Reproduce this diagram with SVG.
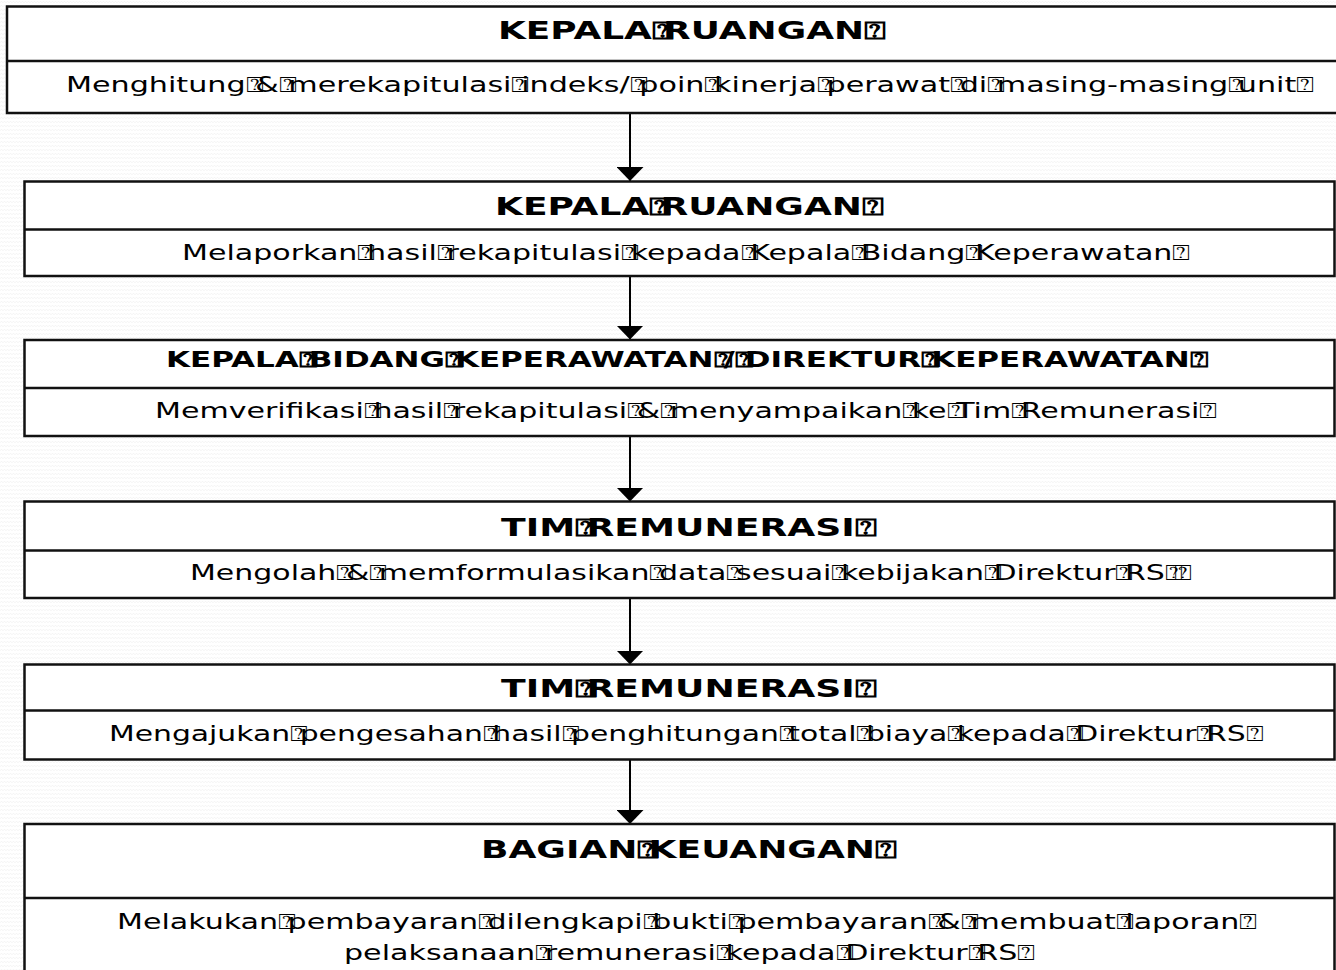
<svg xmlns="http://www.w3.org/2000/svg" width="1336" height="970" viewBox="0 0 1336 970">
<style>
.box{fill:#fff;stroke:#111;stroke-width:2.5}
.dv{stroke:#111;stroke-width:2.5}
.t{font-family:"DejaVu Sans",sans-serif;font-weight:bold;font-size:24.5px;fill:#000}
.t3{font-size:21px}
.b{font-family:"DejaVu Sans",sans-serif;font-size:21px;fill:#000}
.q{letter-spacing:-0.3em}
.cn{stroke:#000;stroke-width:2;fill:none}
</style>
<defs>
<pattern id="zz" width="6" height="4" patternUnits="userSpaceOnUse">
<path d="M0,3 L1.5,1 L3,3 L4.5,1 L6,3" fill="none" stroke="#f0f0f0" stroke-width="0.6"/>
</pattern>
<marker id="ah" viewBox="0 0 14 27" markerWidth="14" markerHeight="27" refX="14" refY="13.5" orient="auto" markerUnits="userSpaceOnUse">
<path d="M0,0 L14,13.5 L0,27 z" fill="#000"/>
</marker>
</defs>
<rect x="0" y="0" width="1336" height="970" fill="#fff"/>
<rect x="0" y="0" width="1336" height="970" fill="url(#zz)"/>

<g id="connectors">
<line class="cn" x1="630" y1="113" x2="630" y2="181" marker-end="url(#ah)"/>
<line class="cn" x1="630" y1="273" x2="630" y2="339.5" marker-end="url(#ah)"/>
<line class="cn" x1="630" y1="436" x2="630" y2="501.5" marker-end="url(#ah)"/>
<line class="cn" x1="630" y1="596" x2="630" y2="664.5" marker-end="url(#ah)"/>
<line class="cn" x1="630" y1="759.5" x2="630" y2="824" marker-end="url(#ah)"/>
</g>

<g id="n1">
<rect class="box" x="7" y="6.5" width="1340" height="106.5"/>
<line class="dv" x1="7" y1="61" x2="1347" y2="61"/>
<text class="t" x="498" y="38.5" textLength="388" lengthAdjust="spacingAndGlyphs">KEPALA<tspan class="q">&#x2370;</tspan>RUANGAN&#x2370;</text>
<text class="b" x="66" y="92" textLength="1249" lengthAdjust="spacingAndGlyphs">Menghitung<tspan class="q">&#x2370;</tspan>&amp;<tspan class="q">&#x2370;</tspan>merekapitulasi<tspan class="q">&#x2370;</tspan>indeks/<tspan class="q">&#x2370;</tspan>poin<tspan class="q">&#x2370;</tspan>kinerja<tspan class="q">&#x2370;</tspan>perawat<tspan class="q">&#x2370;</tspan>di<tspan class="q">&#x2370;</tspan>masing-masing<tspan class="q">&#x2370;</tspan>unit&#x2370;</text>
</g>

<g id="n2">
<rect class="box" x="24.5" y="181.5" width="1310" height="94.5"/>
<line class="dv" x1="24.5" y1="229.5" x2="1334.5" y2="229.5"/>
<text class="t" x="495" y="214.5" textLength="389" lengthAdjust="spacingAndGlyphs">KEPALA<tspan class="q">&#x2370;</tspan>RUANGAN&#x2370;</text>
<text class="b" x="182" y="259.5" textLength="1009" lengthAdjust="spacingAndGlyphs">Melaporkan<tspan class="q">&#x2370;</tspan>hasil<tspan class="q">&#x2370;</tspan>rekapitulasi<tspan class="q">&#x2370;</tspan>kepada<tspan class="q">&#x2370;</tspan>Kepala<tspan class="q">&#x2370;</tspan>Bidang<tspan class="q">&#x2370;</tspan>Keperawatan&#x2370;</text>
</g>

<g id="n3">
<rect class="box" x="24.5" y="340" width="1310" height="96"/>
<line class="dv" x1="24.5" y1="388" x2="1334.5" y2="388"/>
<text class="t t3" x="166" y="367" textLength="1043" lengthAdjust="spacingAndGlyphs">KEPALA<tspan class="q">&#x2370;</tspan>BIDANG<tspan class="q">&#x2370;</tspan>KEPERAWATAN<tspan class="q">&#x2370;</tspan>/<tspan class="q">&#x2370;</tspan>DIREKTUR<tspan class="q">&#x2370;</tspan>KEPERAWATAN&#x2370;</text>
<text class="b" x="155" y="417.5" textLength="1063" lengthAdjust="spacingAndGlyphs">Memverifikasi<tspan class="q">&#x2370;</tspan>hasil<tspan class="q">&#x2370;</tspan>rekapitulasi<tspan class="q">&#x2370;</tspan>&amp;<tspan class="q">&#x2370;</tspan>menyampaikan<tspan class="q">&#x2370;</tspan>ke<tspan class="q">&#x2370;</tspan>Tim<tspan class="q">&#x2370;</tspan>Remunerasi&#x2370;</text>
</g>

<g id="n4">
<rect class="box" x="24.5" y="501.5" width="1310" height="96.5"/>
<line class="dv" x1="24.5" y1="550.5" x2="1334.5" y2="550.5"/>
<text class="t" x="501" y="535.5" textLength="376" lengthAdjust="spacingAndGlyphs">TIM<tspan class="q">&#x2370;</tspan>REMUNERASI&#x2370;</text>
<text class="b" x="190" y="579.5" textLength="1003" lengthAdjust="spacingAndGlyphs">Mengolah<tspan class="q">&#x2370;</tspan>&amp;<tspan class="q">&#x2370;</tspan>memformulasikan<tspan class="q">&#x2370;</tspan>data<tspan class="q">&#x2370;</tspan>sesuai<tspan class="q">&#x2370;</tspan>kebijakan<tspan class="q">&#x2370;</tspan>Direktur<tspan class="q">&#x2370;</tspan>RS<tspan class="q">&#x2370;</tspan>&#x2370;</text>
</g>

<g id="n5">
<rect class="box" x="24.5" y="664.5" width="1310" height="95"/>
<line class="dv" x1="24.5" y1="710.5" x2="1334.5" y2="710.5"/>
<text class="t" x="501" y="696.5" textLength="376" lengthAdjust="spacingAndGlyphs">TIM<tspan class="q">&#x2370;</tspan>REMUNERASI&#x2370;</text>
<text class="b" x="109" y="740.5" textLength="1155" lengthAdjust="spacingAndGlyphs">Mengajukan<tspan class="q">&#x2370;</tspan>pengesahan<tspan class="q">&#x2370;</tspan>hasil<tspan class="q">&#x2370;</tspan>penghitungan<tspan class="q">&#x2370;</tspan>total<tspan class="q">&#x2370;</tspan>biaya<tspan class="q">&#x2370;</tspan>kepada<tspan class="q">&#x2370;</tspan>Direktur<tspan class="q">&#x2370;</tspan>RS&#x2370;</text>
</g>

<g id="n6">
<rect class="box" x="24.5" y="824" width="1310" height="160"/>
<line class="dv" x1="24.5" y1="898" x2="1334.5" y2="898"/>
<text class="t" x="481" y="857.5" textLength="416" lengthAdjust="spacingAndGlyphs">BAGIAN<tspan class="q">&#x2370;</tspan>KEUANGAN&#x2370;</text>
<text class="b" x="117" y="928.5" textLength="1141" lengthAdjust="spacingAndGlyphs">Melakukan<tspan class="q">&#x2370;</tspan>pembayaran<tspan class="q">&#x2370;</tspan>dilengkapi<tspan class="q">&#x2370;</tspan>bukti<tspan class="q">&#x2370;</tspan>pembayaran<tspan class="q">&#x2370;</tspan>&amp;<tspan class="q">&#x2370;</tspan>membuat<tspan class="q">&#x2370;</tspan>laporan&#x2370;</text>
<text class="b" x="344" y="959.5" textLength="692" lengthAdjust="spacingAndGlyphs">pelaksanaan<tspan class="q">&#x2370;</tspan>remunerasi<tspan class="q">&#x2370;</tspan>kepada<tspan class="q">&#x2370;</tspan>Direktur<tspan class="q">&#x2370;</tspan>RS&#x2370;</text>
</g>
</svg>
